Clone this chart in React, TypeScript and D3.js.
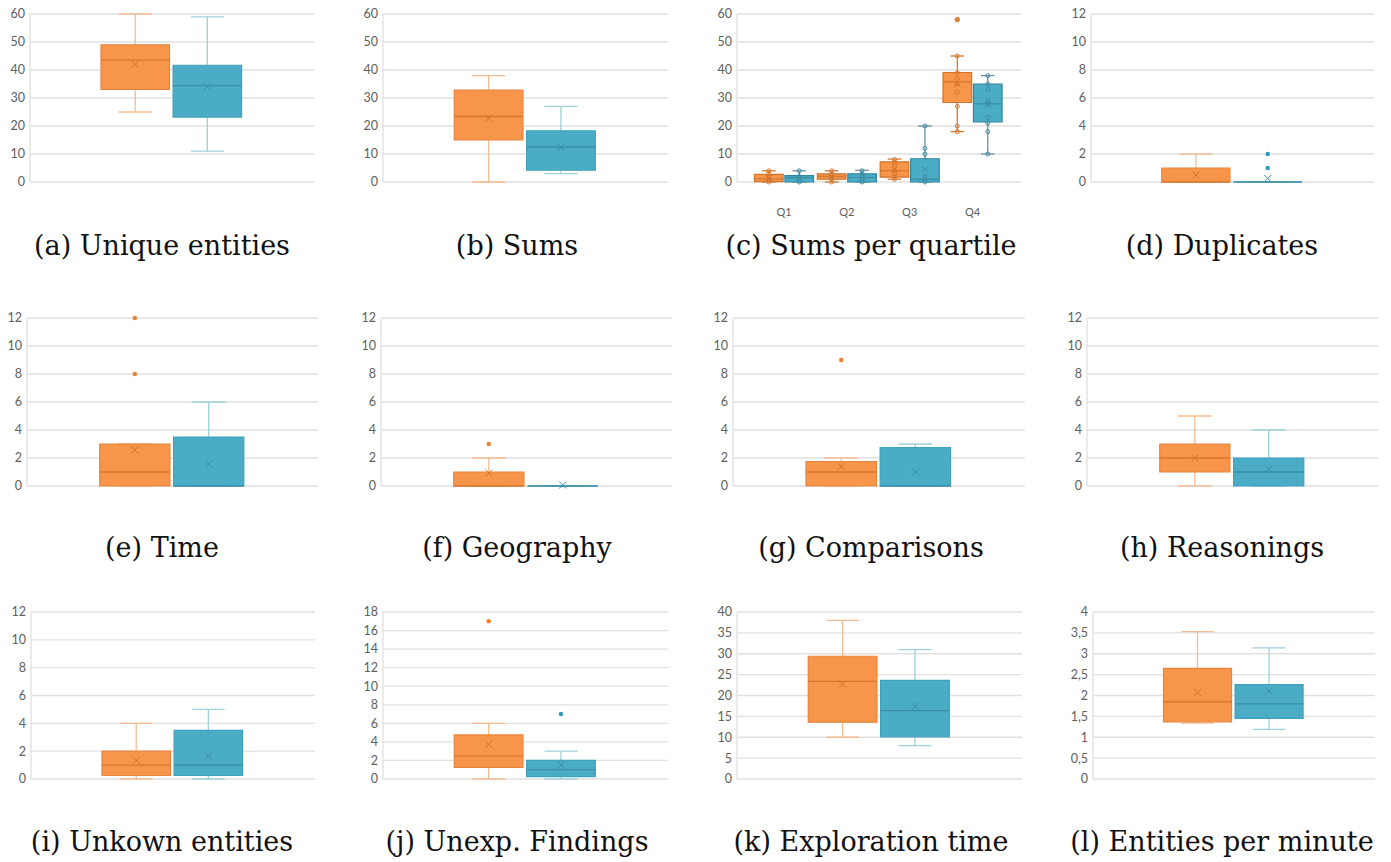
import React from "react";
import * as d3 from "d3";

// Five-number summaries per group: [min, q1, median, q3, max]
// Series 0 = orange group, series 1 = teal group.
const uniqueEntitiesStats = [[25, 33.1, 43.5, 49, 60], [11, 23.2, 34.4, 41.7, 59]];
const uniqueEntitiesMeans = [42, 34];

const sumsStats = [[0, 15, 23.4, 32.8, 38], [3, 4.2, 12.5, 18.3, 27]];
const sumsMeans = [22.8, 12.4];

const quartileLabels = ["Q1", "Q2", "Q3", "Q4"];
const quartileStatsA = [[0, 0.1, 1.1, 2.7, 4], [0, 1, 2, 2.9, 4], [1, 1.75, 4, 7.2, 8.2], [18, 28.4, 35.8, 39.1, 45]];
const quartileStatsB = [[0, 0, 1.5, 2.3, 4], [0, 0, 1.6, 2.9, 4.2], [0, 0, 1, 8.3, 20], [10, 21.5, 27.9, 35, 38]];
const quartileMeansA = [1.4, 2, 4.4, 35.1];
const quartileMeansB = [1.5, 1.6, 4.4, 27.6];
const quartileOutliersA = [[], [], [], [58]];
const quartileOutliersB = [[], [], [], []];
const quartilePointsA = [[0, 1, 2, 3, 4], [0, 1, 2, 3, 4], [1, 2, 3, 4, 6, 7, 8], [18, 20, 27, 32, 35, 37, 39, 45]];
const quartilePointsB = [[0, 1, 2, 4], [0, 1, 2, 3, 4], [0, 1, 2, 10, 12, 20], [10, 18, 21, 23, 28, 29, 33, 35, 38]];

const duplicatesStats = [[0, 0, 0, 1, 2], [0, 0, 0, 0, 0]];
const duplicatesMeans = [0.5, 0.25];
const duplicatesOutliers = [[], [1, 2]];

const timeStats = [[0, 0, 1, 3, 3], [0, 0, 0, 3.5, 6]];
const timeMeans = [2.57, 1.57];
const timeOutliers = [[8, 12], []];

const geographyStats = [[0, 0, 0, 1, 2], [0, 0, 0, 0, 0]];
const geographyMeans = [0.93, 0.07];
const geographyOutliers = [[3], []];

const comparisonsStats = [[0, 0, 1, 1.75, 2], [0, 0, 0, 2.75, 3]];
const comparisonsMeans = [1.4, 1];
const comparisonsOutliers = [[9], []];

const reasoningsStats = [[0, 1, 2, 3, 5], [0, 0, 1, 2, 4]];
const reasoningsMeans = [2, 1.2];

const unknownStats = [[0, 0.25, 1, 2, 4], [0, 0.25, 1, 3.5, 5]];
const unknownMeans = [1.33, 1.65];

const findingsStats = [[0, 1.25, 2.5, 4.75, 6], [0, 0.25, 1, 2, 3]];
const findingsMeans = [3.73, 1.54];
const findingsOutliers = [[17], [7]];

const explorationStats = [[10, 13.6, 23.4, 29.4, 38], [8, 10.1, 16.4, 23.6, 31]];
const explorationMeans = [22.7, 17.4];

const perMinuteStats = [[1.34, 1.37, 1.85, 2.65, 3.53], [1.19, 1.45, 1.8, 2.26, 3.14]];
const perMinuteMeans = [2.07, 2.11];

const captions = [
  "(a) Unique entities", "(b) Sums", "(c) Sums per quartile", "(d) Duplicates",
  "(e) Time", "(f) Geography", "(g) Comparisons", "(h) Reasonings",
  "(i) Unkown entities", "(j) Unexp. Findings", "(k) Exploration time", "(l) Entities per minute",
];

type Series = {
  stats: number[][]; // per category
  means: number[];
  outliers: number[][];
  points?: number[][];
};

type PanelSpec = {
  categories: string[];
  series: Series[];
  yMax: number;
  yStep: number;
  comma?: boolean;
};

const one = (s: number[][], m: number[], o?: number[][]): Series[] => [
  { stats: [s[0]], means: [m[0]], outliers: [o ? o[0] : []] },
  { stats: [s[1]], means: [m[1]], outliers: [o ? o[1] : []] },
];

const panels: PanelSpec[] = [
  { categories: [""], series: one(uniqueEntitiesStats, uniqueEntitiesMeans), yMax: 60, yStep: 10 },
  { categories: [""], series: one(sumsStats, sumsMeans), yMax: 60, yStep: 10 },
  {
    categories: quartileLabels,
    series: [
      { stats: quartileStatsA, means: quartileMeansA, outliers: quartileOutliersA, points: quartilePointsA },
      { stats: quartileStatsB, means: quartileMeansB, outliers: quartileOutliersB, points: quartilePointsB },
    ],
    yMax: 60, yStep: 10,
  },
  { categories: [""], series: one(duplicatesStats, duplicatesMeans, duplicatesOutliers), yMax: 12, yStep: 2 },
  { categories: [""], series: one(timeStats, timeMeans, timeOutliers), yMax: 12, yStep: 2 },
  { categories: [""], series: one(geographyStats, geographyMeans, geographyOutliers), yMax: 12, yStep: 2 },
  { categories: [""], series: one(comparisonsStats, comparisonsMeans, comparisonsOutliers), yMax: 12, yStep: 2 },
  { categories: [""], series: one(reasoningsStats, reasoningsMeans), yMax: 12, yStep: 2 },
  { categories: [""], series: one(unknownStats, unknownMeans), yMax: 12, yStep: 2 },
  { categories: [""], series: one(findingsStats, findingsMeans, findingsOutliers), yMax: 18, yStep: 2 },
  { categories: [""], series: one(explorationStats, explorationMeans), yMax: 40, yStep: 5 },
  { categories: [""], series: one(perMinuteStats, perMinuteMeans), yMax: 4, yStep: 0.5, comma: true },
];

// Plot-area frames: [left, right, top, bottom]
const frames = [
  [30, 314, 14, 182], [383, 668, 14, 182], [737, 1021, 14, 182], [1091, 1374, 14, 182],
  [27, 318, 318, 486], [381, 672, 318, 486], [733, 1025, 318, 486], [1087, 1378, 318, 486],
  [31, 315, 612, 779], [383, 668, 612, 779], [737, 1022, 612, 779], [1093, 1375, 612, 779],
];
const captionX = [162, 517, 871, 1222];
const captionY = [255, 557, 851];

const palette = [
  { fill: "#F7964A", stroke: "#E8853C", median: "#D8772E", mean: "#D0732C", whisker: "#F5BC92", dot: "#EF7E2B",
    darkWhisker: "#D5792F", darkStroke: "#D2732A" },
  { fill: "#4BACC6", stroke: "#3FA2BC", median: "#3A8EA6", mean: "#3A8EA6", whisker: "#9ED0DD", dot: "#2E99BE",
    darkWhisker: "#6C90A6", darkStroke: "#2E87A0" },
];

const tickFont = "Lato, 'Open Sans', sans-serif";

function Panel({ spec, frame }: { spec: PanelSpec; frame: number[] }) {
  const [left, right, top, bottom] = frame;
  const multi = spec.categories.length > 1;
  const y = d3.scaleLinear().domain([0, spec.yMax]).range([bottom, top]);
  const ticks = d3.range(0, spec.yMax + spec.yStep / 2, spec.yStep);
  const w = right - left;
  // Category band: single-category panels keep the pair in the middle half.
  const x0 = d3
    .scaleBand<string>()
    .domain(spec.categories)
    .range(multi ? [left + 0.055 * w, left + 0.94 * w] : [left + 0.25 * w, left + 0.745 * w])
    .paddingInner(0)
    .paddingOuter(0);
  const x1 = d3
    .scaleBand<number>()
    .domain([0, 1])
    .range(multi ? [0.03 * x0.bandwidth(), 0.97 * x0.bandwidth()] : [0, x0.bandwidth()])
    .paddingInner(multi ? 0.06 : 0.05);
  const fmt = (v: number) => (spec.comma ? String(v).replace(".", ",") : String(v));

  return (
    <g>
      {ticks.map((t) => (
        <g key={t}>
          <line x1={left} x2={right} y1={y(t)} y2={y(t)} stroke="#E1E1E1" strokeWidth={1.3} />
          <text x={left - 5} y={y(t)} dy="0.35em" textAnchor="end" fontFamily={tickFont} fontSize={12.5} fill="#606060">
            {fmt(t)}
          </text>
        </g>
      ))}
      <line x1={left} x2={left} y1={top} y2={bottom} stroke="#E1E1E1" strokeWidth={1.3} />
      {multi &&
        spec.categories.map((c) => (
          <text key={c} x={(x0(c) ?? 0) + x0.bandwidth() / 2} y={bottom + 34} textAnchor="middle"
            fontFamily={tickFont} fontSize={11} fill="#606060">
            {c}
          </text>
        ))}
      {spec.series.map((s, si) => {
        const col = palette[si];
        return spec.categories.map((c, ci) => {
          const [mn, q1, med, q3, mx] = s.stats[ci];
          const bx = (x0(c) ?? 0) + (x1(si) ?? 0);
          const bw = x1.bandwidth();
          const cx = bx + bw / 2;
          const cap = bw * 0.24;
          const wc = multi ? col.darkWhisker : col.whisker;
          const sc = multi ? col.darkStroke : col.stroke;
          const mean = s.means[ci];
          const m = multi ? 3 : 3.5;
          return (
            <g key={`${si}-${ci}`}>
              <line x1={cx} x2={cx} y1={y(q3)} y2={y(mx)} stroke={wc} strokeWidth={1.3} />
              <line x1={cx} x2={cx} y1={y(q1)} y2={y(mn)} stroke={wc} strokeWidth={1.3} />
              <line x1={cx - cap} x2={cx + cap} y1={y(mx)} y2={y(mx)} stroke={wc} strokeWidth={1.3} />
              <line x1={cx - cap} x2={cx + cap} y1={y(mn)} y2={y(mn)} stroke={wc} strokeWidth={1.3} />
              <path
                d={`M${bx},${y(q3)}H${bx + bw}V${y(q1)}H${bx}Z`}
                fill={col.fill}
                stroke={sc}
                strokeWidth={1.2}
              />
              <line x1={bx} x2={bx + bw} y1={y(med)} y2={y(med)} stroke={col.median} strokeWidth={1.3} />
              {s.points &&
                s.points[ci].map((p, pi) => (
                  <circle key={pi} cx={cx} cy={y(p)} r={2} fill="none" stroke={col.median} strokeWidth={1} />
                ))}
              <path
                d={`M${cx - m},${y(mean) - m}L${cx + m},${y(mean) + m}M${cx + m},${y(mean) - m}L${cx - m},${y(mean) + m}`}
                stroke={col.mean}
                strokeWidth={1}
                fill="none"
              />
              {s.outliers[ci].map((o, oi) => (
                <circle key={oi} cx={cx} cy={y(o)} r={2.2} fill={col.dot} stroke={multi ? col.median : "none"} />
              ))}
            </g>
          );
        });
      })}
    </g>
  );
}

export default function App() {
  return (
    <svg
      width={1391}
      height={862}
      style={{ position: "absolute", left: 0, top: 0, background: "#ffffff" }}
    >
      <rect width={1391} height={862} fill="#ffffff" />
      {panels.map((p, i) => (
        <Panel key={i} spec={p} frame={frames[i]} />
      ))}
      {captions.map((c, i) => (
        <text
          key={c}
          x={captionX[i % 4]}
          y={captionY[Math.floor(i / 4)]}
          textAnchor="middle"
          fontFamily="'DejaVu Serif', serif"
          fontSize={27}
          fill="#111"
        >
          {c}
        </text>
      ))}
    </svg>
  );
}
